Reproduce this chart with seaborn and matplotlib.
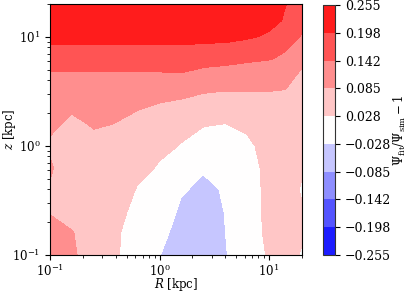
import numpy as np
import matplotlib
matplotlib.use("Agg")
import matplotlib.pyplot as plt
from matplotlib import ticker
import seaborn as sns

# grid coordinates (kpc)
R_kpc = [0.1, 0.158, 0.251, 0.398, 0.631, 1.0, 1.585, 2.512, 3.981, 6.31, 10.0, 14.1, 20.0]
z_kpc = [20.0, 14.1, 10.0, 6.31, 3.981, 2.512, 1.585, 1.0, 0.631, 0.398, 0.251, 0.158, 0.1]

# fractional residual Psi_fit/Psi_sim - 1 (rows follow z_kpc, columns follow R_kpc)
row_z20 = [0.24, 0.24, 0.24, 0.24, 0.24, 0.24, 0.24, 0.24, 0.24, 0.238, 0.235, 0.2, 0.175]
row_z14 = [0.23, 0.23, 0.23, 0.23, 0.23, 0.23, 0.23, 0.23, 0.232, 0.225, 0.221, 0.19, 0.158]
row_z10 = [0.215, 0.215, 0.215, 0.215, 0.215, 0.215, 0.215, 0.215, 0.215, 0.205, 0.188, 0.165, 0.138]
row_z6 = [0.175, 0.175, 0.175, 0.175, 0.175, 0.175, 0.175, 0.166, 0.161, 0.152, 0.145, 0.133, 0.099]
row_z4 = [0.125, 0.125, 0.125, 0.125, 0.125, 0.125, 0.128, 0.114, 0.109, 0.105, 0.104, 0.094, 0.07]
row_z2_5 = [0.115, 0.10, 0.105, 0.10, 0.094, 0.086, 0.079, 0.069, 0.0646, 0.0696, 0.07, 0.075, 0.062]
row_z1_6 = [0.093, 0.075, 0.09, 0.084, 0.073, 0.064, 0.051, 0.032, 0.027, 0.042, 0.065, 0.062, 0.05]
row_z1 = [0.08, 0.068, 0.072, 0.068, 0.057, 0.042, 0.0246, 0.0057, 0.016, 0.016, 0.055, 0.05, 0.04]
row_z0_63 = [0.088, 0.066, 0.062, 0.055, 0.041, 0.023, 0.0037, -0.019, 0.002, 0.013, 0.041, 0.045, 0.032]
row_z0_4 = [0.083, 0.066, 0.06, 0.048, 0.025, 0.0106, -0.022, -0.044, -0.02, 0.011, 0.040, 0.04, 0.025]
row_z0_25 = [0.082, 0.07, 0.06, 0.042, 0.012, -0.002, -0.038, -0.055, -0.026, 0.010, 0.0397, 0.04, 0.03]
row_z0_16 = [0.098, 0.087, 0.062, 0.033, 0.005, -0.015, -0.05, -0.06, -0.0285, 0.009, 0.038, 0.038, 0.031]
row_z0_1 = [0.1, 0.09, 0.065, 0.033, 0.0, -0.027, -0.055, -0.062, -0.031, 0.008, 0.0325, 0.035, 0.026]

levels = [-0.255, -0.198, -0.142, -0.085, -0.028, 0.028, 0.085, 0.142, 0.198, 0.255]

sns.set_style("ticks")
plt.rcParams.update({
    "font.family": ["DejaVu Serif"],
    "mathtext.fontset": "dejavuserif",
    "font.size": 9,
    "axes.edgecolor": "black",
    "xtick.color": "black",
    "ytick.color": "black",
    "text.color": "black",
    "axes.labelcolor": "black",
    "xtick.direction": "out",
    "ytick.direction": "out",
    "xtick.major.size": 3.5,
    "ytick.major.size": 3.5,
    "xtick.minor.size": 2,
    "ytick.minor.size": 2,
    "xtick.major.pad": 2.0,
})

resid = np.array([row_z20, row_z14, row_z10, row_z6, row_z4, row_z2_5, row_z1_6,
                  row_z1, row_z0_63, row_z0_4, row_z0_25, row_z0_16, row_z0_1])
RR, ZZ = np.meshgrid(np.array(R_kpc), np.array(z_kpc))

fig = plt.figure(figsize=(4.07, 2.92), dpi=100)
ax = fig.add_axes([50 / 407, 37 / 292, 252 / 407, 251 / 292])
cax = fig.add_axes([322.7 / 407, 37 / 292, 12.3 / 407, 250 / 292])

cf = ax.contourf(RR, ZZ, resid, levels=levels, cmap="bwr")
ax.set_xscale("log")
ax.set_yscale("log")
ax.set_xlim(0.1, 20)
ax.set_ylim(0.1, 20)
ax.set_xlabel(r"$R$ [kpc]", fontsize=8.5)
ax.set_ylabel(r"$z$ [kpc]", fontsize=8.5)
ax.xaxis.set_label_coords(0.5, -0.116)
ax.xaxis.label.set_verticalalignment("center")
ax.yaxis.set_label_coords(-0.161, 0.5)
ax.yaxis.label.set_verticalalignment("center")
ax.tick_params(labelsize=8.5)
for s in ax.spines.values():
    s.set_visible(True)
    s.set_linewidth(0.8)

cb = fig.colorbar(cf, cax=cax, ticks=levels)
cb.ax.yaxis.set_major_formatter(ticker.FuncFormatter(lambda v, p: f"{v:.3f}".replace("-", "\u2212")))
cb.ax.tick_params(labelsize=9)
cb.set_label(r"$\Psi_{\rm fit}/\Psi_{\rm sim}-1$", fontsize=8.5)
cb.ax.yaxis.set_label_coords(5.6, 0.5)
cb.outline.set_edgecolor("0.2")

fig.savefig("out.png", dpi=100)
